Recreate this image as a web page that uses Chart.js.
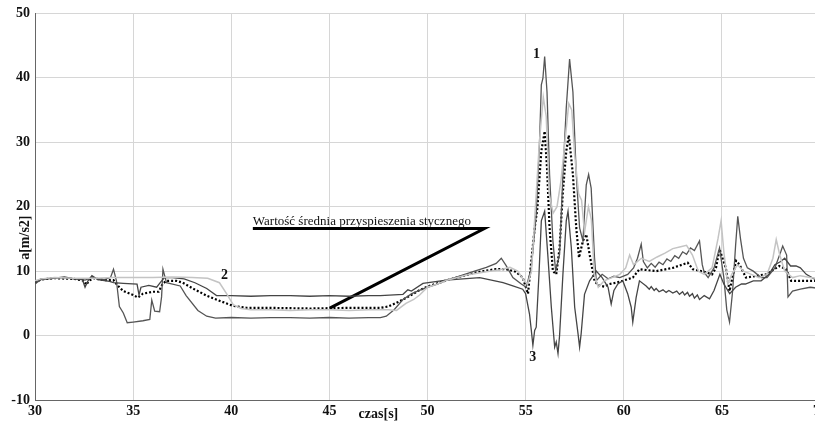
<!DOCTYPE html>
<html>
<head>
<meta charset="utf-8">
<script src="https://cdn.jsdelivr.net/npm/chart.js@4/dist/chart.umd.min.js"></script>
<style>
  html, body { margin: 0; padding: 0; background: #fff; overflow: hidden; }
  #wrap { position: relative; width: 830px; height: 421px; }
</style>
</head>
<body>
<div id="wrap"><canvas id="c"></canvas></div>
<script>
// time [s], acceleration [m/s2]
const X_TICKS = [30, 35, 40, 45, 50, 55, 60, 65, 70];
const Y_TICKS = [-10, 0, 10, 20, 30, 40, 50];

// curve 1 (peaks ~43)
const curve1 = [
  [30.0,8.0],[30.3,8.7],[31.0,8.9],[31.5,9.0],[32.0,8.8],[32.4,8.7],[32.55,8.6],[32.9,9.0],[33.5,8.7],[33.85,9.0],
  [34.0,10.3],[34.15,8.5],[34.3,4.5],[34.5,3.5],[34.7,2.0],[35.0,2.1],[35.5,2.3],[35.85,2.5],[35.95,5.5],[36.1,3.8],
  [36.35,3.7],[36.45,6.0],[36.52,10.3],[36.7,8.2],[37.4,7.7],[37.7,6.2],[38.3,3.9],[38.75,3.0],[39.2,2.7],[40,2.8],
  [41,2.7],[42,2.8],[43,2.8],[44,2.7],[45,2.8],[46,2.7],[47,2.8],[47.6,2.8],[47.9,3.0],[48.3,4.0],
  [48.75,5.6],[49.2,6.5],[49.8,7.3],[50.5,8.0],[51.0,8.6],[51.7,9.3],[52.4,10.0],[53.0,10.6],[53.5,11.2],[53.76,12.0],
  [54.0,10.9],[54.35,9.0],[54.78,8.0],[55.03,7.5],[55.29,10.5],[55.54,18.8],[55.71,30.1],[55.8,38.9],[55.88,39.9],[55.97,43.3],
  [56.09,37.8],[56.22,25.0],[56.39,14.7],[56.53,10.0],[56.73,12.6],[56.9,25.0],[57.07,35.3],[57.24,42.9],[57.41,37.8],[57.58,25.0],
  [57.75,16.7],[57.92,14.7],[58.09,23.4],[58.21,25.0],[58.34,22.9],[58.51,12.1],[58.6,8.5],[58.9,9.5],[59.2,8.8],[59.5,9.2],
  [59.8,9.0],[60.2,9.5],[60.5,10.5],[60.7,12.0],[60.89,14.2],[61.0,11.5],[61.2,10.5],[61.4,11.2],[61.6,10.6],[61.8,11.4],
  [62.0,11.0],[62.2,11.9],[62.4,11.5],[62.6,12.4],[62.8,12.0],[63.0,13.0],[63.2,12.6],[63.4,13.6],[63.6,13.2],[63.86,14.7],
  [64.0,11.0],[64.1,9.8],[64.3,9.0],[64.6,10.5],[64.88,13.6],[65.1,9.0],[65.25,4.0],[65.39,2.1],[65.55,7.0],[65.7,14.0],
  [65.81,18.5],[65.95,15.0],[66.1,12.0],[66.3,10.5],[66.6,10.0],[67.0,9.0],[67.3,9.0],[67.7,10.5],[68.0,13.0],[68.1,13.9],
  [68.3,12.5],[68.37,6.0],[68.6,6.9],[69.0,7.2],[69.5,7.5],[70,7.3]
];

// curve 2 (light grey)
const curve2 = [
  [30.0,8.5],[30.3,8.8],[31,9.0],[32,8.9],[33,8.9],[34,9.0],[35,9.0],[36,9.0],[37,9.1],[38,9.0],
  [38.8,8.9],[39.4,8.2],[39.76,6.5],[40.1,4.8],[40.5,4.2],[41,4.0],[42,4.0],[43,3.9],[44,4.0],[45,4.0],
  [46,3.9],[47,4.0],[47.6,4.0],[48.0,4.0],[48.42,3.9],[48.9,5.0],[49.3,5.6],[49.6,6.3],[50.0,7.5],[50.5,8.0],
  [51.0,8.6],[52,9.4],[53,9.9],[53.7,10.2],[54.2,10.6],[54.6,10.0],[54.9,8.6],[55.1,8.0],[55.3,10],[55.5,20],
  [55.7,30],[55.9,37],[56.05,34],[56.2,22],[56.4,19],[56.6,20],[56.8,24],[57.0,30],[57.2,36],[57.35,35],
  [57.5,28],[57.7,22],[57.85,21],[58.0,16],[58.2,20],[58.35,18],[58.5,9.5],[58.7,7.5],[59.0,8.5],[59.4,9.0],
  [59.8,9.5],[60.1,10.5],[60.3,12.5],[60.5,11.0],[60.9,12.0],[61.3,11.5],[61.7,12.2],[62.1,12.8],[62.5,13.5],[62.9,13.8],
  [63.2,14.0],[63.5,12.5],[63.8,10.0],[64.1,9.5],[64.5,10.5],[64.8,15.0],[64.96,17.8],[65.1,13.0],[65.3,8.0],[65.5,9.5],
  [65.8,11.0],[66.1,10.0],[66.5,9.5],[66.9,9.0],[67.3,9.5],[67.6,12.0],[67.77,14.9],[67.95,12.5],[68.2,10.0],[68.6,9.0],
  [69.0,9.3],[69.5,9.0],[70,8.8]
];

// curve 3 (dips below zero)
const curve3 = [
  [30.0,8.2],[30.3,8.8],[31.0,8.9],[31.5,9.1],[32.0,8.8],[32.4,8.8],[32.55,7.5],[32.7,8.5],[32.9,9.3],[33.2,8.7],
  [33.8,8.4],[34.0,8.2],[34.5,8.1],[35.2,8.0],[35.3,6.3],[35.4,7.5],[35.8,7.8],[36.2,7.5],[36.4,8.3],[36.6,9.0],
  [37.0,9.0],[37.6,8.8],[38.15,8.2],[38.75,7.3],[39.25,6.2],[40,6.2],[41,6.1],[42,6.2],[43,6.2],[44,6.1],
  [45,6.2],[46,6.1],[47,6.2],[47.6,6.2],[48.75,6.4],[49.0,7.1],[49.18,6.9],[49.77,8.1],[50.96,8.6],[52.66,9.0],
  [53.85,8.2],[54.35,7.7],[54.85,7.2],[55.0,6.5],[55.2,3.3],[55.29,0.8],[55.37,-1.5],[55.46,0.8],[55.54,1.3],[55.68,9.5],
  [55.8,17.8],[55.97,19.3],[56.14,12.1],[56.31,4.4],[56.48,-1.8],[56.56,-1.0],[56.65,-2.8],[56.73,0.0],[56.9,9.5],[57.07,17.8],
  [57.16,19.3],[57.33,13.6],[57.5,4.4],[57.67,0.3],[57.75,-1.8],[57.83,0.3],[58.0,6.4],[58.26,8.5],[58.6,10.0],[58.9,9.0],
  [59.2,7.5],[59.36,4.9],[59.5,7.0],[59.7,8.0],[59.95,8.5],[60.2,6.5],[60.38,4.4],[60.46,2.1],[60.63,5.9],[60.8,8.5],
  [61.14,7.7],[61.3,7.2],[61.4,7.6],[61.55,7.0],[61.65,7.3],[61.8,6.8],[62.0,7.1],[62.16,6.7],[62.3,7.0],[62.5,6.6],
  [62.7,6.9],[62.84,6.4],[63.0,6.8],[63.1,6.3],[63.25,6.7],[63.35,6.1],[63.5,6.5],[63.6,5.8],[63.75,6.3],[63.86,5.6],
  [64.1,6.2],[64.37,5.7],[64.6,7.0],[64.9,9.5],[65.1,8.0],[65.4,6.5],[65.7,7.5],[66.0,8.0],[66.2,8.0],[66.6,8.5],
  [67.0,8.5],[67.4,9.5],[67.7,11.0],[68.0,11.5],[68.2,12.0],[68.5,10.8],[68.78,10.8],[69.0,10.5],[69.3,9.5],[69.7,8.8],
  [70,8.6]
];

// mean value (dotted)
const meanCurve = [
  [30,8.2],[30.3,8.7],[31,8.9],[32,8.8],[32.5,8.5],[32.6,7.9],[32.8,8.6],[33.0,8.9],[33.5,8.6],[34.0,8.6],
  [34.2,7.8],[34.5,6.9],[35.0,6.3],[35.25,5.9],[35.5,6.5],[36.0,6.8],[36.3,6.8],[36.5,8.0],[36.7,8.5],[37.2,8.5],
  [37.53,8.2],[38.05,7.3],[38.74,6.2],[39.4,5.4],[40.1,4.6],[40.78,4.3],[42,4.3],[44,4.2],[46,4.3],[47.57,4.3],
  [48.0,4.5],[48.5,5.2],[49.0,6.0],[49.5,6.9],[50.0,7.6],[50.5,8.1],[51.0,8.6],[51.5,9.0],[52.0,9.4],[52.5,9.8],
  [53.0,10.1],[53.5,10.3],[54.0,10.3],[54.5,9.9],[54.85,9.0],[55.12,6.5],[55.46,16.7],[55.6,19.8],[55.8,28.6],[55.97,31.7],
  [56.09,26.0],[56.22,16.7],[56.39,10.0],[56.56,9.5],[56.73,13.6],[56.9,22.4],[57.07,28.6],[57.2,31.1],[57.41,25.0],[57.58,16.7],
  [57.72,12.1],[57.92,14.7],[58.09,15.7],[58.26,12.6],[58.51,8.5],[58.7,7.8],[59.0,7.6],[59.27,8.0],[59.6,8.2],[59.95,8.5],
  [60.46,9.0],[60.8,10.3],[61.65,10.0],[62.5,10.5],[63.26,11.3],[63.52,10.3],[64.2,9.8],[64.5,9.5],[64.7,10.5],[64.88,13.4],
  [65.2,10.5],[65.39,6.9],[65.72,11.6],[65.9,11.0],[66.23,9.0],[67.25,9.5],[67.93,10.8],[68.27,10.3],[68.53,8.5],[69.7,8.5],
  [70,8.5]
];

// leader line of the annotation
const leader = [[41.1,16.6],[52.9,16.6],[45.02,4.27]];
const NOTE_TEXT = 'Wartość średnia przyspieszenia stycznego';
const curveLabels = [['1',55.56,43.7],['2',39.65,9.4],['3',55.36,-3.4]];

const pts = arr => arr.map(p => ({ x: p[0], y: p[1] }));
const SERIF = '"Liberation Serif", "DejaVu Serif", serif';

const overlay = {
  id: 'overlay',
  afterDraw(chart) {
    const { ctx, scales: { x, y } } = chart;
    ctx.save();
    ctx.fillStyle = '#111';
    ctx.font = '13px ' + SERIF;
    ctx.textAlign = 'left';
    ctx.textBaseline = 'alphabetic';
    ctx.fillText(NOTE_TEXT, x.getPixelForValue(leader[0][0]), y.getPixelForValue(leader[0][1]) - 4);

    ctx.font = 'bold 14px ' + SERIF;
    ctx.textAlign = 'center';
    ctx.textBaseline = 'middle';
    curveLabels.forEach(l => ctx.fillText(l[0], x.getPixelForValue(l[1]), y.getPixelForValue(l[2])));

    ctx.fillText('czas[s]', x.getPixelForValue(47.5), chart.height - 7);

    ctx.translate(x.left - 10, y.getPixelForValue(15.2));
    ctx.rotate(-Math.PI / 2);
    ctx.fillText('a[m/s2]', 0, 0);
    ctx.restore();
  }
};

new Chart(document.getElementById('c'), {
  type: 'line',
  data: {
    datasets: [
      { data: pts(curve2), borderColor: '#c4c4c4', borderWidth: 1.5 },
      { data: pts(curve3), borderColor: '#454545', borderWidth: 1.3 },
      { data: pts(curve1), borderColor: '#555555', borderWidth: 1.3 },
      { data: pts(meanCurve), borderColor: '#000', borderWidth: 2.2, borderDash: [2, 2] },
      { data: pts(leader), borderColor: '#000', borderWidth: 3 }
    ]
  },
  options: {
    responsive: true,
    maintainAspectRatio: false,
    animation: false,
    events: [],
    layout: { padding: { top: 11, right: 9, left: 0, bottom: 0 } },
    elements: { point: { radius: 0 }, line: { tension: 0, borderCapStyle: 'butt' } },
    plugins: { legend: { display: false }, tooltip: { enabled: false } },
    scales: {
      x: {
        type: 'linear', min: 30, max: 70,
        afterBuildTicks: s => { s.ticks = X_TICKS.map(v => ({ value: v })); },
        afterFit: s => { s.height = 21; },
        ticks: { color: '#111', font: { family: SERIF, size: 14, weight: 'bold' }, padding: 3, maxRotation: 0 },
        grid: { color: '#d6d6d6', drawTicks: false },
        border: { color: '#666' }
      },
      y: {
        min: -10, max: 50,
        afterBuildTicks: s => { s.ticks = Y_TICKS.map(v => ({ value: v })); },
        afterFit: s => { s.width = 35; },
        ticks: { color: '#111', font: { family: SERIF, size: 14, weight: 'bold' }, padding: 5 },
        grid: { color: '#d6d6d6', drawTicks: false },
        border: { color: '#666' }
      }
    }
  },
  plugins: [overlay]
});
</script>
</body>
</html>
